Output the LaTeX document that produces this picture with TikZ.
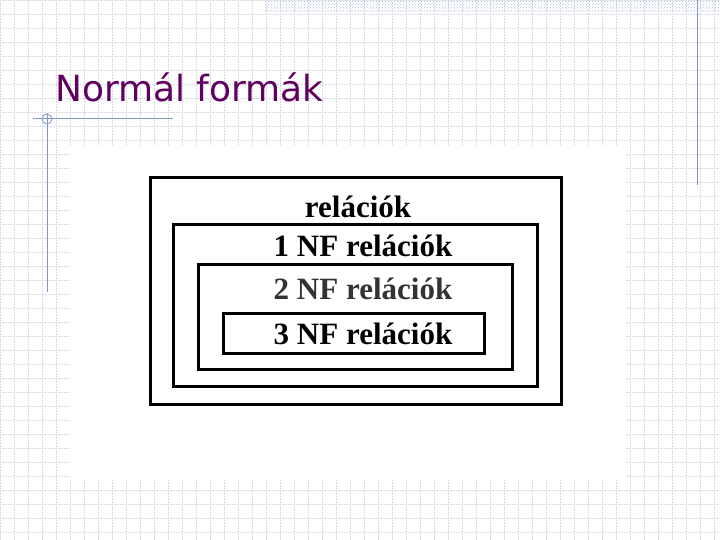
\documentclass[tikz,border=0pt]{standalone}
\usepackage{fontspec}
\setmainfont{Liberation Serif}
\newfontfamily\titlefont{DejaVu Sans}
\usetikzlibrary{patterns}
\definecolor{titlec}{RGB}{96,0,96}
\definecolor{deco}{RGB}{130,150,200}
\definecolor{gridc}{RGB}{215,215,225}
\tikzset{box/.style={draw=black,line width=3pt},
 lbl/.style={font=\bfseries\fontsize{31}{34}\selectfont,inner sep=0pt},
 gridline/.style={gridc,densely dotted,line width=0.6pt}}
\begin{document}
\begin{tikzpicture}[x=1pt,y=-1pt]
\useasboundingbox (0,0) rectangle (720,540);
\fill[white] (0,0) rectangle (720,540);
\foreach \i in {0,14,...,720} \draw[gridline] (\i,0) -- (\i,540);
\foreach \j in {0,14,...,540} \draw[gridline] (0,\j) -- (720,\j);
\fill[white] (70,145) rectangle (625,480);
\fill[pattern=crosshatch dots,pattern color=deco!60] (265,0) rectangle (720,12);
\draw[deco,line width=1pt] (697,0) -- (697,185);
\draw[deco,line width=1pt] (33,119) -- (173,119);
\draw[deco,line width=1pt] (47,113) -- (47,292);
\draw[deco,line width=0.8pt] (47,119) circle (5);
\node[text=titlec,font=\titlefont\fontsize{36}{40}\selectfont,anchor=west,inner sep=0pt] (title) at (55,87) {Normál formák};
\draw[box] (150,178) rectangle (561,404);
\draw[box] (173,225) rectangle (537,386);
\draw[box] (198,264) rectangle (512,369);
\draw[box] (223,313) rectangle (484,353);
\node[lbl] (r0) at (358,207) {relációk};
\node[lbl] (r1) at (363,246) {1 NF relációk};
\node[lbl,text=black!80] (r2) at (363,289) {2 NF relációk};
\node[lbl] (r3) at (363,334) {3 NF relációk};
\end{tikzpicture}
\end{document}
